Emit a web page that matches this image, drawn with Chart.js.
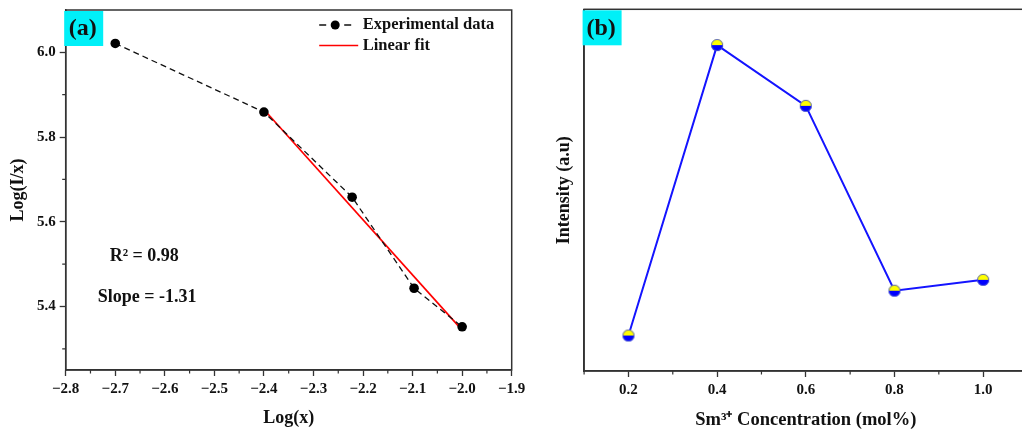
<!DOCTYPE html>
<html>
<head>
<meta charset="utf-8">
<script src="https://cdn.jsdelivr.net/npm/chart.js@4.4.0/dist/chart.umd.min.js"></script>
<style>
  html, body { margin: 0; padding: 0; background: #fff; overflow: hidden; }
  #wrap { position: relative; width: 1022px; height: 431px; overflow: hidden; }
  #chartA { position: absolute; left: 0; top: 0; }
  #chartB { position: absolute; left: 520px; top: 0; }
</style>
</head>
<body>
<div id="wrap">
  <canvas id="chartA" width="545" height="431"></canvas>
  <canvas id="chartB" width="516" height="431"></canvas>
</div>
<script>
// panel (a): log-log concentration quenching
const logX = [-2.7, -2.4, -2.222, -2.097, -2.0];
const logIx = [6.021, 5.859, 5.658, 5.443, 5.352];
const fitX = [-2.4, -2.0];
const fitY = [5.865, 5.344];
const xTicksA = [-2.8, -2.7, -2.6, -2.5, -2.4, -2.3, -2.2, -2.1, -2.0, -1.9];
const yTicksA = [5.4, 5.6, 5.8, 6.0];
const r2Text = "R\u00B2 = 0.98";
const slopeText = "Slope = -1.31";

// panel (b): intensity vs Sm3+ concentration
const smConc = [0.2, 0.4, 0.6, 0.8, 1.0];
const intensity = [9.8, 90.1, 73.3, 22.2, 25.2];
const xTicksB = [0.2, 0.4, 0.6, 0.8, 1.0];

const SERIF = '"Liberation Serif", "Times New Roman", serif';
Chart.defaults.font.family = SERIF;
Chart.defaults.color = "#111";

const fmt = (v) => v.toFixed(1).replace("-", "\u2212");
const toPts = (xs, ys) => xs.map((x, i) => ({ x: x, y: ys[i] }));
const mids = (arr) => {
  let out = [];
  for (let i = 0; i < arr.length - 1; i++) out.push((arr[i] + arr[i + 1]) / 2);
  return out;
};

// yellow-top / blue-bottom marker used in (b)
function halfDot(r) {
  const c = document.createElement("canvas");
  const s = r * 2 + 2;
  c.width = s; c.height = s;
  const g = c.getContext("2d");
  const m = s / 2;
  g.beginPath(); g.arc(m, m, r, Math.PI, 0); g.closePath();
  g.fillStyle = "#ffff00"; g.fill();
  g.beginPath(); g.arc(m, m, r, 0, Math.PI); g.closePath();
  g.fillStyle = "#0000ff"; g.fill();
  g.beginPath(); g.arc(m, m, r - 0.4, 0, Math.PI * 2);
  g.strokeStyle = "#4a56c9"; g.lineWidth = 0.9; g.stroke();
  return c;
}

function tickAxis(fixed) {
  return function (s) {
    if (s.isHorizontal()) { s.height = fixed; s.paddingLeft = 0; s.paddingRight = 0; }
    else { s.width = fixed; s.paddingTop = 0; s.paddingBottom = 0; }
  };
}

function drawFrameAndMinors(chart, xMinor, yMinor) {
  const { ctx, chartArea: a, scales } = chart;
  ctx.save();
  ctx.strokeStyle = "#333";
  ctx.lineWidth = 1.5;
  ctx.strokeRect(a.left, a.top, a.right - a.left, a.bottom - a.top);
  ctx.lineWidth = 1.2;
  ctx.beginPath();
  xMinor.forEach((v) => {
    const px = scales.x.getPixelForValue(v);
    ctx.moveTo(px, a.bottom); ctx.lineTo(px, a.bottom + 3.5);
  });
  yMinor.forEach((v) => {
    const py = scales.y.getPixelForValue(v);
    ctx.moveTo(a.left, py); ctx.lineTo(a.left - 3.5, py);
  });
  ctx.stroke();
  ctx.restore();
}

function drawTag(chart, text) {
  const { ctx, chartArea: a } = chart;
  ctx.save();
  ctx.fillStyle = "#00f0f8";
  ctx.fillRect(a.left - 1.5, a.top + 1, 39, 35);
  ctx.fillStyle = "#111";
  ctx.font = "bold 24px " + SERIF;
  ctx.textAlign = "center";
  ctx.textBaseline = "middle";
  ctx.fillText(text, a.left + 17, a.top + 19);
  ctx.restore();
}

const decorA = {
  id: "decorA",
  afterDraw(chart) {
    const { ctx, chartArea: a } = chart;
    drawFrameAndMinors(chart, mids(xTicksA), [5.3, 5.5, 5.7, 5.9]);
    drawTag(chart, "(a)");

    // legend
    ctx.save();
    const lx = a.left + 253.5;
    ctx.strokeStyle = "#111";
    ctx.lineWidth = 1.4;
    ctx.beginPath();
    ctx.moveTo(lx, a.top + 15); ctx.lineTo(lx + 7, a.top + 15);
    ctx.moveTo(lx + 25, a.top + 15); ctx.lineTo(lx + 32, a.top + 15);
    ctx.stroke();
    ctx.fillStyle = "#000";
    ctx.beginPath(); ctx.arc(lx + 16, a.top + 15, 4.5, 0, Math.PI * 2); ctx.fill();
    ctx.strokeStyle = "#ff0000";
    ctx.lineWidth = 1.6;
    ctx.beginPath(); ctx.moveTo(lx, a.top + 35.5); ctx.lineTo(lx + 39, a.top + 35.5); ctx.stroke();

    ctx.fillStyle = "#111";
    ctx.font = "bold 16.5px " + SERIF;
    ctx.textAlign = "left";
    ctx.textBaseline = "middle";
    ctx.fillText("Experimental data", lx + 43.5, a.top + 15);
    ctx.fillText("Linear fit", lx + 43.5, a.top + 35.5);

    // fit annotations
    ctx.font = "bold 18px " + SERIF;
    ctx.fillText(r2Text, a.left + 44, 256);
    ctx.fillText(slopeText, a.left + 32, 297);
    ctx.restore();
  },
};

const decorB = {
  id: "decorB",
  afterDraw(chart) {
    drawFrameAndMinors(chart, [0.1, 0.3, 0.5, 0.7, 0.9, 1.1], []);
    drawTag(chart, "(b)");
  },
};

const tickFont = { size: 15, weight: "bold" };
const titleFont = { size: 18, weight: "bold" };

new Chart(document.getElementById("chartA"), {
  type: "scatter",
  data: {
    datasets: [
      {
        label: "Experimental data",
        data: toPts(logX, logIx),
        showLine: true,
        borderColor: "#111",
        borderWidth: 1.3,
        borderDash: [6, 4],
        pointRadius: 4.8,
        pointBackgroundColor: "#000",
        pointBorderColor: "#000",
        pointBorderWidth: 0,
      },
      {
        label: "Linear fit",
        data: toPts(fitX, fitY),
        showLine: true,
        borderColor: "#ff0000",
        borderWidth: 1.7,
        pointRadius: 0,
      },
    ],
  },
  options: {
    responsive: false,
    animation: false,
    layout: { padding: { top: 10, right: 33.3, bottom: 0, left: 0 } },
    plugins: { legend: { display: false }, tooltip: { enabled: false } },
    scales: {
      x: {
        type: "linear",
        min: -2.8,
        max: -1.9,
        afterBuildTicks: (s) => { s.ticks = xTicksA.map((v) => ({ value: v })); },
        afterFit: tickAxis(61),
        ticks: { callback: (v) => fmt(v), font: tickFont, color: "#111", padding: 4, maxRotation: 0, autoSkip: false },
        grid: { drawOnChartArea: false, tickLength: 6, tickColor: "#333", tickWidth: 1.3 },
        border: { color: "#333", width: 1.5 },
        title: { display: true, text: "Log(x)", font: titleFont, color: "#111", padding: { top: 0, bottom: 2 } },
      },
      y: {
        type: "linear",
        min: 5.25,
        max: 6.1,
        afterBuildTicks: (s) => { s.ticks = yTicksA.map((v) => ({ value: v })); },
        afterFit: tickAxis(65.7),
        ticks: { callback: (v) => fmt(v), font: tickFont, color: "#111", padding: 4, autoSkip: false },
        grid: { drawOnChartArea: false, tickLength: 6, tickColor: "#333", tickWidth: 1.3 },
        border: { color: "#333", width: 1.5 },
        title: { display: true, text: "Log(I/x)", font: titleFont, color: "#111", padding: { top: 7.5, bottom: 0 } },
      },
    },
  },
  plugins: [decorA],
});

new Chart(document.getElementById("chartB"), {
  type: "scatter",
  data: {
    datasets: [
      {
        label: "Intensity",
        data: toPts(smConc, intensity),
        showLine: true,
        borderColor: "#1414ff",
        borderWidth: 2,
        pointStyle: halfDot(6),
        pointRadius: 6.5,
      },
    ],
  },
  options: {
    responsive: false,
    animation: false,
    layout: { padding: { top: 9.3, right: 2.8, bottom: 0, left: 0 } },
    plugins: { legend: { display: false }, tooltip: { enabled: false } },
    scales: {
      x: {
        type: "linear",
        min: 0.1,
        max: 1.1,
        afterBuildTicks: (s) => { s.ticks = xTicksB.map((v) => ({ value: v })); },
        afterFit: tickAxis(60),
        ticks: { callback: (v) => fmt(v), font: tickFont, color: "#111", padding: 4, maxRotation: 0, autoSkip: false },
        grid: { drawOnChartArea: false, tickLength: 6, tickColor: "#333", tickWidth: 1.3 },
        border: { color: "#333", width: 1.5 },
        title: { display: true, text: "Sm\u00B3\u207A Concentration (mol%)", font: { size: 18.5, weight: "bold" }, color: "#111", padding: { top: 0, bottom: 0 } },
      },
      y: {
        type: "linear",
        min: 0,
        max: 100,
        afterFit: tickAxis(64.1),
        ticks: { display: false },
        grid: { display: false },
        border: { color: "#333", width: 1.5 },
        title: { display: true, text: "Intensity (a.u)", font: titleFont, color: "#111", padding: { top: 33.2, bottom: 0 } },
      },
    },
  },
  plugins: [decorB],
});
</script>
</body>
</html>
